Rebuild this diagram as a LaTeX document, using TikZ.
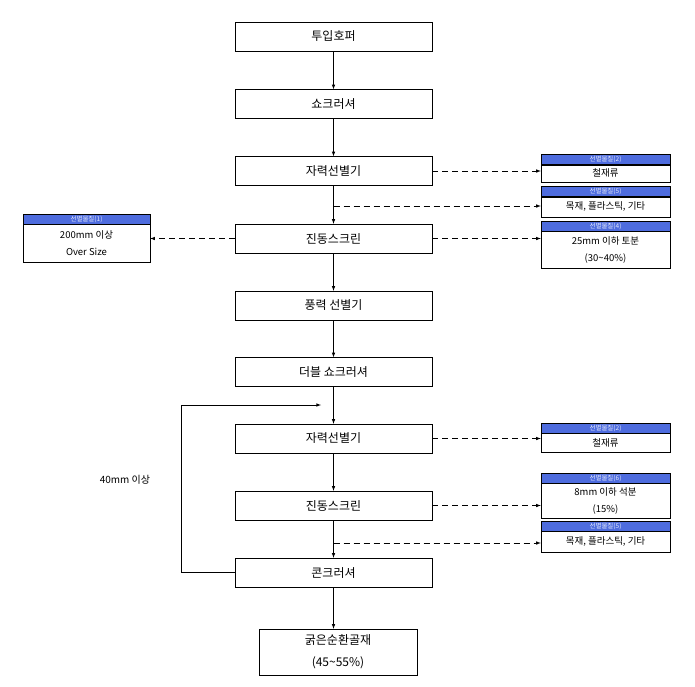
\documentclass[tikz,border=0pt]{standalone}
\usepackage{fontspec}
\setmainfont{Noto Sans CJK KR}
\usetikzlibrary{positioning}

\definecolor{headblue}{RGB}{78,108,222}

\tikzstyle{stage}=[draw,rectangle,minimum width=197pt,minimum height=29pt,inner sep=0pt,font=\fontsize{12}{13}\selectfont]
\tikzstyle{head}=[draw,rectangle,fill=headblue,text=white!85!headblue,minimum width=129pt,minimum height=10pt,inner sep=0pt,font=\fontsize{6.5}{7}\selectfont]
\tikzstyle{body}=[draw,rectangle,minimum width=129pt,inner sep=0pt,align=center,font=\fontsize{9.5}{17}\selectfont]
\tikzstyle{flow} = [draw,line width=0.6pt,->,>=latex]
\tikzstyle{side flow} = [draw,line width=0.6pt,dash pattern=on 6pt off 4pt,->,>=latex]

\begin{document}
\begin{tikzpicture}[x=1pt,y=-1pt]
		\useasboundingbox (0,0) rectangle (695,686);
		% main line
		\node[stage] (hopper) at (333.5,36.5) {투입호퍼};
		\node[stage] (shock) at (333.5,104) {쇼크러셔};
		\node[stage] (mag) at (333.5,171) {자력선별기};
		\node[stage] (screen) at (333.5,238.5) {진동스크린};
		\node[stage] (wind) at (333.5,305.5) {풍력 선별기};
		\node[stage] (dshock) at (333.5,372) {더블 쇼크러셔};
		\node[stage] (magb) at (333.5,438.5) {자력선별기};
		\node[stage] (screenb) at (333.5,505.5) {진동스크린};
		\node[stage] (cone) at (333.5,572.5) {콘크러셔};
		\node[stage,minimum width=158pt,minimum height=46pt,align=center,font=\fontsize{12}{22}\selectfont] (coarse) at (338,652) {굵은순환골재\\(45\textasciitilde55\%)};
		% sorted materials
		\node[head] (iron) at (605.5,159.5) {선별물질(2)};
		\node[body,minimum height=17pt,below=0pt of iron] (ironb) {철재류};
		\node[head] (wood) at (605.5,191.5) {선별물질(5)};
		\node[body,minimum height=20pt,below=0pt of wood] (woodb) {목재, 플라스틱, 기타};
		\node[head] (soil) at (605.5,226) {선별물질(4)};
		\node[body,minimum height=37pt,below=0pt of soil] (soilb) {25mm 이하 토분\\(30\textasciitilde40\%)};
		\node[head,minimum width=127pt] (over) at (86.5,219) {선별물질(1)};
		\node[body,minimum width=127pt,minimum height=38pt,below=0pt of over] (overb) {200mm 이상\\Over Size};
		\node[head] (ironc) at (605.5,428) {선별물질(2)};
		\node[body,minimum height=19pt,below=0pt of ironc] (ironcb) {철재류};
		\node[head] (stone) at (605.5,478) {선별물질(6)};
		\node[body,minimum height=35pt,below=0pt of stone] (stoneb) {8mm 이하 석분\\(15\%)};
		\node[head] (woodc) at (605.5,526) {선별물질(5)};
		\node[body,minimum height=21pt,below=0pt of woodc] (woodcb) {목재, 플라스틱, 기타};
		\node[font=\fontsize{10}{12}\selectfont] (loop) at (125,480) {40mm 이상};
		\coordinate (split) at (333.5,206);
		\coordinate (splitb) at (333.5,543);
		\coordinate (back) at (321,405);
		% main arrows
		\foreach \source/ \dest in {hopper/shock, shock/mag, mag/screen, screen/wind, wind/dshock, dshock/magb, magb/screenb, screenb/cone}
		\path[flow] (\source) to (\dest);
		\path[flow] (cone.south) -- (cone.south |- coarse.north);
		% side arrows
		\path[side flow] (mag.east) -- (mag.east -| ironb.west);
		\path[side flow] (split) -- (split -| woodb.west);
		\path[side flow] (screen.east) -- (screen.east -| soilb.west);
		\path[side flow] (screen.west) -- (screen.west -| overb.east);
		\path[side flow] (magb.east) -- (magb.east -| ironcb.west);
		\path[side flow] (screenb.east) -- (screenb.east -| stoneb.west);
		\path[side flow] (splitb) -- (splitb -| woodcb.west);
		% return loop
		\path[flow] (cone.west) -- (181,572.5) |- (back);
		\end{tikzpicture}
\end{document}
